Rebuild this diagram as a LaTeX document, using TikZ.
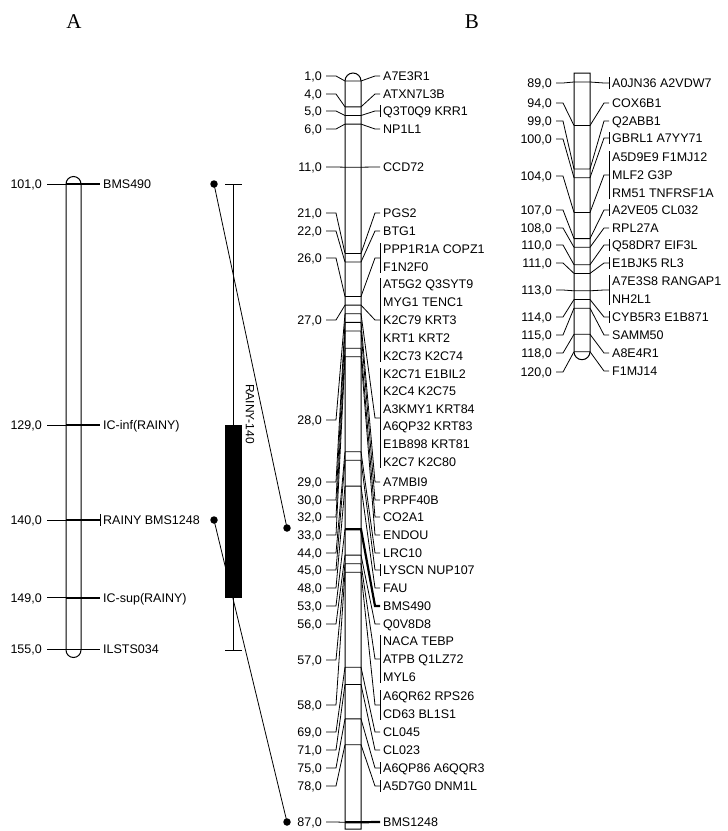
\documentclass[tikz,border=0pt]{standalone}
\usepackage{fontspec}
\setmainfont{Liberation Serif}
\newfontfamily\mapfont{Liberation Sans}
\usetikzlibrary{calc}
\tikzset{
 chrom/.style={line width=1pt},
 conn/.style={line width=.8pt},
 markline/.style={line width=2.2pt},
 num/.style={anchor=east,inner sep=0,text height=9pt,text depth=0pt,font=\mapfont\fontsize{12.5}{13}\selectfont},
 lbl/.style={anchor=west,inner sep=0,text height=9pt,text depth=0pt,font=\mapfont\fontsize{12.5}{13}\selectfont},
 linkdot/.style={circle,fill,inner sep=0,minimum size=7.5pt},
 panel/.style={inner sep=0,font=\fontsize{21}{21}\selectfont}
}
\begin{document}
\begin{tikzpicture}[x=1pt,y=-1pt]
\useasboundingbox (0,0) rectangle (728,831);
\node[panel] (headA) at (74,22) {A};
\node[panel] (headB) at (472,22) {B};
% chromosome A
\draw[chrom] (66,650) -- (66,184) arc[start angle=180,end angle=360,radius=7.5] -- (81,650) arc[start angle=0,end angle=180,radius=7.5];
\foreach \p/\txt/\st [count=\i] in {101/BMS490/markline, 129/IC-inf(RAINY)/markline, 140/RAINY BMS1248/markline, 149/IC-sup(RAINY)/markline, 155/ILSTS034/conn}{
  \pgfmathsetmacro\yt{184+(\p-101)*8.62}
  \node[num] (an\i) at (42,\yt) {\p,0};
  \node[lbl] (al\i) at (103,\yt) {\txt};
  \draw[conn] ($(an\i.east)+(5,0)$) -- ($(al\i.west)+(-3,0)$);
  \draw[\st] (66,\yt) -- ($(al\i.west)+(-3,0)$);
}
\draw[conn] ($(al3.west)+(-3,-6)$) -- ($(al3.west)+(-3,6)$);
% QTL
\draw[conn] (225,184) -- (242,184) (233.5,184) -- (233.5,650) (225,650) -- (242,650);
\fill (225,425) rectangle (242,598);
\node[rotate=-90,inner sep=0,font=\mapfont\fontsize{12}{12}\selectfont] (qtl) at (250,414) {RAINY-140};
% links
\node[linkdot] (dA1) at (214,184) {};
\node[linkdot] (dB1) at (287,528) {};
\node[linkdot] (dA2) at (214,520) {};
\node[linkdot] (dB2) at (287,822) {};
\draw[conn] (dA1.center) -- (dB1.center);
\draw[conn] (dA2.center) -- (dB2.center);
% chromosome B
\draw[chrom] (345,829) -- (345,81) arc[start angle=180,end angle=360,radius=8] -- (361,829) -- cycle;
\foreach \p/\ya/\yb/\br/\st [count=\i] in {1/76/76/0/conn, 4/94/94/0/conn, 5/111/111/1/conn, 6/129/129/0/conn, 11/167/167/0/conn, 21/213/213/0/conn, 22/231/231/0/conn, 26/249/267/1/conn, 27/284/356/1/conn, 28/374/462/1/conn, 29/482/482/0/conn, 30/500/500/0/conn, 32/517/517/0/conn, 33/535/535/0/conn, 44/553/553/0/conn, 45/570/570/1/conn, 48/588/588/0/conn, 53/606/606/0/markline, 56/624/624/0/conn, 57/641/677/1/conn, 58/696/714/1/conn, 69/732/732/0/conn, 71/750/750/0/conn, 75/768/768/1/conn, 78/786/786/1/conn, 87/822/822/0/markline}{
  \pgfmathsetmacro\yt{81+(\p-1)*8.62}
  \coordinate (bt\i) at (345,\yt);
  \coordinate (bs\i) at (361,\yt);
  \coordinate (bb\i) at (380,{(\ya+\yb)/2});
  \draw[\st] (bt\i) -- (bs\i) -- ($(bb\i)+(-5,0)$) -- (bb\i);
  \ifnum\br=1 \draw[conn] (380,{\ya-6}) -- (380,{\yb+6}); \fi
}
\foreach \p/\yl [count=\i] in {1/76, 4/94, 5/111, 6/129, 11/167, 21/213, 22/231, 26/258, 27/320, 28/420, 29/482, 30/500, 32/517, 33/535, 44/553, 45/570, 48/588, 53/606, 56/624, 57/660, 58/705, 69/732, 71/750, 75/768, 78/786, 87/822}{
  \node[num] (bn\i) at (322,\yl) {\p,0};
  \draw[conn] ($(bn\i.east)+(4,0)$) -- ++(10,0) -- (bt\i);
}
\foreach \y/\txt [count=\i] in {76/A7E3R1, 94/ATXN7L3B, 111/Q3T0Q9 KRR1, 129/NP1L1, 167/CCD72, 213/PGS2, 231/BTG1, 249/PPP1R1A COPZ1, 267/F1N2F0, 284/AT5G2 Q3SYT9, 302/MYG1 TENC1, 320/K2C79 KRT3, 338/KRT1 KRT2, 356/K2C73 K2C74, 374/K2C71 E1BIL2, 391/K2C4 K2C75, 409/A3KMY1 KRT84, 426/A6QP32 KRT83, 444/E1B898 KRT81, 462/K2C7 K2C80, 482/A7MBI9, 500/PRPF40B, 517/CO2A1, 535/ENDOU, 553/LRC10, 570/LYSCN NUP107, 588/FAU, 606/BMS490, 624/Q0V8D8, 641/NACA TEBP, 659/ATPB Q1LZ72, 677/MYL6, 696/A6QR62 RPS26, 714/CD63 BL1S1, 732/CL045, 750/CL023, 768/A6QP86 A6QQR3, 786/A5D7G0 DNM1L, 822/BMS1248}
  \node[lbl] (bl\i) at (383,\y) {\txt};
% chromosome B, continued
\draw[chrom] (574,73) -- (574,351.7) arc[start angle=180,end angle=0,radius=8] -- (590,73) -- cycle;
\foreach \p/\ya/\yb/\br [count=\i] in {89/83/83/1, 94/103/103/0, 99/121/121/0, 100/138/138/1, 104/157/193/1, 107/210/210/1, 108/228/228/0, 110/245/245/1, 111/263/263/1, 113/281/299/1, 114/317/317/1, 115/335/335/0, 118/353/353/0, 120/371/371/0}{
  \pgfmathsetmacro\yt{82+(\p-89)*8.7}
  \coordinate (ct\i) at (574,\yt);
  \coordinate (cs\i) at (590,\yt);
  \coordinate (cb\i) at (609,{(\ya+\yb)/2});
  \draw[conn] (ct\i) -- (cs\i) -- ($(cb\i)+(-5,0)$) -- (cb\i);
  \ifnum\br=1 \draw[conn] (609,{\ya-6}) -- (609,{\yb+6}); \fi
}
\foreach \p/\yl [count=\i] in {89/83, 94/103, 99/121, 100/139, 104/176, 107/210, 108/228, 110/245, 111/263, 113/290, 114/317, 115/335, 118/353, 120/372}{
  \node[num] (cn\i) at (552,\yl) {\p,0};
  \draw[conn] ($(cn\i.east)+(4,0)$) -- ++(7,0) -- (ct\i);
}
\foreach \y/\txt [count=\i] in {83/A0JN36 A2VDW7, 103/COX6B1, 121/Q2ABB1, 138/GBRL1 A7YY71, 157/A5D9E9 F1MJ12, 175/MLF2 G3P, 193/RM51 TNFRSF1A, 210/A2VE05 CL032, 228/RPL27A, 245/Q58DR7 EIF3L, 263/E1BJK5 RL3, 281/A7E3S8 RANGAP1, 299/NH2L1, 317/CYB5R3 E1B871, 335/SAMM50, 353/A8E4R1, 371/F1MJ14}
  \node[lbl] (cl\i) at (612,\y) {\txt};
\end{tikzpicture}
\end{document}
